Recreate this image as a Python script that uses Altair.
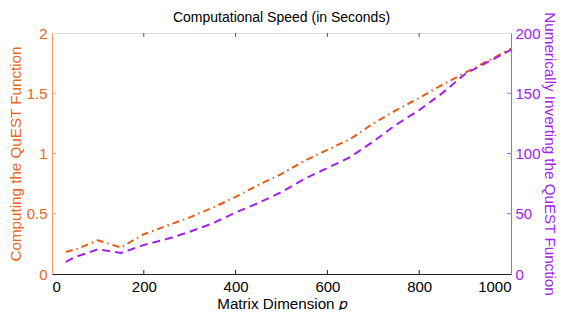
import altair as alt
import pandas as pd

# ---- data ----
p_values = [30, 50, 100, 150, 200, 250, 300, 350, 400, 450, 500, 550,
            600, 650, 700, 750, 800, 850, 900, 950, 1000]
quest_seconds = [0.185, 0.20, 0.28, 0.22, 0.33, 0.40, 0.47, 0.55, 0.64, 0.74, 0.83, 0.94,
                 1.03, 1.12, 1.25, 1.36, 1.46, 1.57, 1.67, 1.77, 1.87]
invert_seconds = [10, 14, 20.5, 17.5, 24, 29, 35, 42, 51, 59, 68, 79,
                  88, 97, 110, 124, 136, 150, 166, 176, 186]
x_tick_values = [0, 200, 400, 600, 800, 1000]
left_tick_values = [0, 0.5, 1, 1.5, 2]
right_tick_values = [0, 50, 100, 150, 200]

ORANGE = "#E65A14"
ORANGE_TEXT = "#EA6420"
ORANGE_AXIS = "#F19A66"
PURPLE = "#A020F0"
PURPLE_AXIS = "#B858F2"
FONT = "Liberation Sans"
LABEL_SIZE = 15
TITLE_SIZE = 15.2

W, H = 459, 241

df = pd.DataFrame({"p": p_values, "quest": quest_seconds, "invert": invert_seconds})
xt = pd.DataFrame({"p": x_tick_values[1:-1]})
lt = pd.DataFrame({"v": left_tick_values[1:-1]})
rt = pd.DataFrame({"w": right_tick_values[1:-1]})

xscale = alt.Scale(domain=[0, 1000], nice=False, zero=False)
lscale = alt.Scale(domain=[0, 2], nice=False)
rscale = alt.Scale(domain=[0, 200], nice=False)

orange = alt.Chart(df).mark_line(
    color=ORANGE, strokeWidth=2, strokeDash=[7, 4, 1.5, 4]
).encode(
    x=alt.X("p:Q", scale=xscale,
            axis=alt.Axis(title="Matrix Dimension 𝑝", values=x_tick_values, format="d",
                          tickSize=0, labelPadding=5, grid=False, domainColor="#222",
                          labelColor="black", titleColor="black", labelFontSize=LABEL_SIZE,
                          titleFontSize=TITLE_SIZE, titleFontWeight="normal", titlePadding=2,
                          labelFont=FONT, titleFont=FONT)),
    y=alt.Y("quest:Q", scale=lscale,
            axis=alt.Axis(orient="left", title="Computing the QuEST Function",
                          values=left_tick_values, format="~g", tickSize=0, labelPadding=5,
                          grid=False, domainColor=ORANGE_AXIS, labelColor=ORANGE_TEXT,
                          titleColor=ORANGE_TEXT, labelFontSize=LABEL_SIZE,
                          titleFontSize=TITLE_SIZE, titleFontWeight="normal", titlePadding=3,
                          labelFont=FONT, titleFont=FONT)),
)

purple = alt.Chart(df).mark_line(
    color=PURPLE, strokeWidth=2, strokeDash=[8, 5]
).encode(
    x=alt.X("p:Q", scale=xscale),
    y=alt.Y("invert:Q", scale=rscale,
            axis=alt.Axis(orient="right", title="Numerically Inverting the QuEST Function",
                          values=right_tick_values, format="d", tickSize=0, labelPadding=4,
                          grid=False, domainColor=PURPLE_AXIS, labelColor=PURPLE,
                          titleColor=PURPLE, labelFontSize=LABEL_SIZE,
                          titleFontSize=TITLE_SIZE, titleFontWeight="normal", titlePadding=1,
                          labelFont=FONT, titleFont=FONT)),
)

bottom_ticks = alt.Chart(xt).mark_rule(color="#222").encode(
    x=alt.X("p:Q", scale=xscale), y=alt.value(H), y2=alt.value(H - 4))
top_ticks = alt.Chart(xt).mark_rule(color="#555").encode(
    x=alt.X("p:Q", scale=xscale), y=alt.value(0), y2=alt.value(4))
left_ticks = alt.Chart(lt).mark_rule(color=ORANGE_AXIS).encode(
    y=alt.Y("v:Q", scale=lscale, axis=None), x=alt.value(0), x2=alt.value(4))
right_ticks = alt.Chart(rt).mark_rule(color=PURPLE_AXIS).encode(
    y=alt.Y("w:Q", scale=rscale, axis=None), x=alt.value(W), x2=alt.value(W - 4))

chart = alt.layer(
    orange, purple, bottom_ticks, top_ticks, left_ticks, right_ticks
).resolve_scale(y="independent").properties(
    width=W, height=H,
    title=alt.TitleParams("Computational Speed (in Seconds)", font=FONT, fontSize=14,
                          fontWeight="normal", color="black", offset=0, dy=13,
                          frame="group"),
    autosize=alt.AutoSizeParams(type="none"),
    padding={"left": 44, "top": 25, "right": 48, "bottom": 36},
).configure_view(stroke="#444", strokeWidth=1).configure(background="white")

chart.save("out.html", embed_options={"renderer": "svg", "actions": False})
